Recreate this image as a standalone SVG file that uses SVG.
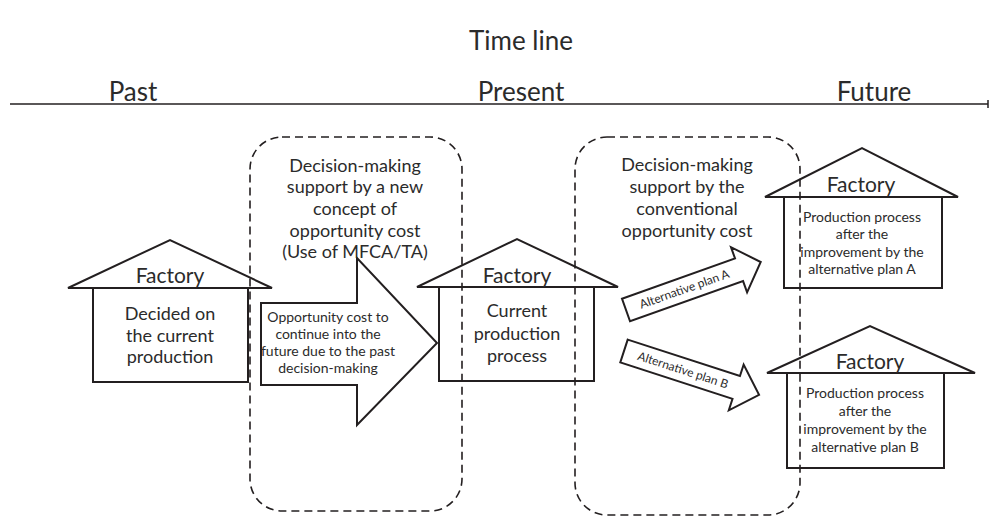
<svg xmlns="http://www.w3.org/2000/svg" width="991" height="518" viewBox="0 0 991 518">
<style>
text{font-family:Lato,"Liberation Sans",sans-serif;fill:#2b2b2b;text-anchor:middle}
.t26{font-size:26px}
.t20{font-size:21px}
.t18{font-size:18px}
.t14{font-size:14px}
.t11{font-size:12px}
.shape{fill:#fff;stroke:#231f20;stroke-width:2}
.dash{fill:none;stroke:#231f20;stroke-width:1.6;stroke-dasharray:8 5}
</style>
<rect width="991" height="518" fill="#fff"/>
<g id="timeline">
<text class="t26" x="521" y="50">Time line</text>
<text class="t26" x="133" y="101">Past</text>
<text class="t26" x="521" y="101">Present</text>
<text class="t26" x="874" y="101">Future</text>
<line x1="10" y1="104" x2="988" y2="104" stroke="#231f20" stroke-width="1.5"/>
<line x1="988" y1="100" x2="988" y2="108" stroke="#231f20" stroke-width="1.5"/>
</g>
<g id="factory-past">
<polygon class="shape" points="68,288 170,240 272,288"/>
<rect class="shape" x="93" y="288" width="155" height="94"/>
<text class="t20" x="170" y="283">Factory</text>
<text class="t18" x="170" y="320">Decided on</text>
<text class="t18" x="170" y="342">the current</text>
<text class="t18" x="170" y="363">production</text>
</g>
<g id="factory-present">
<polygon class="shape" points="417,287 517,239 618,287"/>
<rect class="shape" x="439" y="287" width="155" height="94"/>
<text class="t20" x="517" y="283">Factory</text>
<text class="t18" x="517" y="317">Current</text>
<text class="t18" x="517" y="340">production</text>
<text class="t18" x="517" y="362">process</text>
</g>
<g id="factory-future-a">
<polygon class="shape" points="765,197 862,148 958,197"/>
<rect class="shape" x="784" y="197" width="158" height="91"/>
<text class="t20" x="861" y="192">Factory</text>
<text class="t14" x="862" y="222">Production process</text>
<text class="t14" x="862" y="239">after the</text>
<text class="t14" x="862" y="257">improvement by the</text>
<text class="t14" x="862" y="274">alternative plan A</text>
</g>
<g id="factory-future-b">
<polygon class="shape" points="767,373 870,326 975,373"/>
<rect class="shape" x="787" y="373" width="157" height="95"/>
<text class="t20" x="870" y="369">Factory</text>
<text class="t14" x="865" y="398">Production process</text>
<text class="t14" x="865" y="416">after the</text>
<text class="t14" x="865" y="434">improvement by the</text>
<text class="t14" x="865" y="452">alternative plan B</text>
</g>
<g id="connectors">
<g id="opportunity-arrow">
<polygon class="shape" points="261,303 357,303 357,258 437,343 357,425 357,385 261,385"/>
<text class="t14" x="328" y="322">Opportunity cost to</text>
<text class="t14" x="328" y="339">continue into the</text>
<text class="t14" x="328" y="356">future due to the past</text>
<text class="t14" x="328" y="373">decision-making</text>
</g>
<g id="arrow-a" transform="translate(626,310) rotate(-19.6)">
<polygon class="shape" stroke-width="1.8" points="0,-12 120,-12 120,-24 143,0 120,24 120,12 0,12"/>
<text class="t11" x="62" y="4">Alternative plan A</text>
</g>
<g id="arrow-b" transform="translate(624,351) rotate(18)">
<polygon class="shape" stroke-width="1.8" points="0,-12 118,-12 118,-24 142,0 118,24 118,12 0,12"/>
<text class="t11" x="62" y="4">Alternative plan B</text>
</g>
</g>
<g id="group-new-concept">
<rect class="dash" x="250" y="137" width="212" height="374" rx="32"/>
<text class="t18" x="355" y="172">Decision-making</text>
<text class="t18" x="355" y="193">support by a new</text>
<text class="t18" x="355" y="215">concept of</text>
<text class="t18" x="355" y="237">opportunity cost</text>
<text class="t18" x="355" y="258">(Use of MFCA/TA)</text>
</g>
<g id="group-conventional">
<rect class="dash" x="575" y="137" width="225" height="378" rx="32"/>
<text class="t18" x="687" y="171">Decision-making</text>
<text class="t18" x="687" y="193">support by the</text>
<text class="t18" x="687" y="215">conventional</text>
<text class="t18" x="687" y="237">opportunity cost</text>
</g>
</svg>
